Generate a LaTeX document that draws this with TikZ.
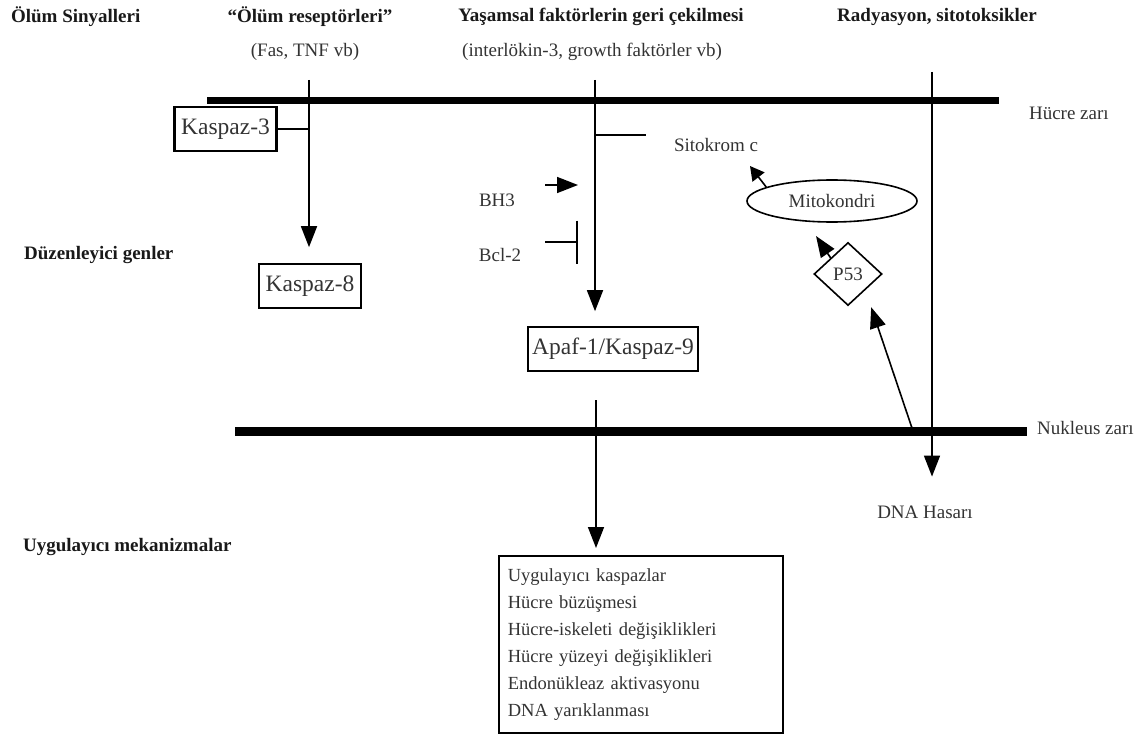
\documentclass[tikz,border=0pt]{standalone}
\usepackage{fontspec}
\setmainfont{Liberation Serif}
\usetikzlibrary{arrows.meta, shapes.geometric}

\begin{document}
\begin{tikzpicture}[x=0.5pt, y=-0.5pt, >={Triangle[width=8pt, length=10.5pt]},
  font=\fontsize{9.5}{13.5}\selectfont, text=black!80,
  head/.style={font=\fontsize{9.5}{12}\selectfont\bfseries, text=black!90},
  box/.style={draw, line width=0.8pt, minimum width=51pt, minimum height=22pt, inner sep=2pt,
    font=\fontsize{11.75}{14}\selectfont},
  wire/.style={line width=0.8pt},
  arr/.style={wire, ->},
  sarr/.style={wire, -{Triangle[width=7.5pt, length=7pt]}}]

\useasboundingbox (0,0) rectangle (1140,738);

% ---- column headers --------------------------------------------------------------
\node[head, anchor=west] (hsig) at (4,17) {Ölüm Sinyalleri};
\node[head] (hrec) at (310,17)  {“Ölüm reseptörleri”};
\node       (srec) at (305,52)  {(Fas, TNF vb)};
\node[head] (hyas) at (601,17)  {Yaşamsal faktörlerin geri çekilmesi};
\node       (syas) at (592,52)  {(interlökin-3, growth faktörler vb)};
\node[head] (hrad) at (937,17)  {Radyasyon, sitotoksikler};

% ---- row labels ------------------------------------------------------------------
\node[head, anchor=west] (lduz) at (17,255) {Düzenleyici genler};
\node[head, anchor=west] (luyg) at (16,547) {Uygulayıcı mekanizmalar};

% ---- membranes -------------------------------------------------------------------
\coordinate (hz1) at (207,101);
\coordinate (hz2) at (999,101);
\draw[line width=3.5pt] (hz1) -- (hz2);
\node[anchor=west] (hzari) at (1022,113) {Hücre zarı};

\coordinate (nz1) at (235,431);
\coordinate (nz2) at (1027,431);
\draw[line width=4.5pt] (nz1) -- (nz2);
\node[anchor=west] (nzari) at (1030,428) {Nukleus zarı};

% ---- death receptors -------------------------------------------------------------
\node[box, line width=1.2pt, minimum width=51pt, minimum height=22pt] (k3) at (225.5,129) {Kaspaz-3};
\node[box] (k8) at (310,286) {Kaspaz-8};
\coordinate (rectop) at (309,80);
\draw[arr, shorten >=8pt] (rectop) -- (rectop |- k8.north);
\draw[wire] (k3.east) -- (k3.east -| rectop);

% ---- withdrawal of survival factors ----------------------------------------------
\node[box, minimum width=85pt] (apaf) at (613,349) {Apaf-1/Kaspaz-9};
\coordinate (yastop) at (595,80);
\draw[arr, shorten >=7.5pt] (yastop) -- (yastop |- apaf.north);
\coordinate (tick) at (646,135);
\draw[wire] (tick -| yastop) -- (tick);
\node[anchor=west] (sito) at (667,145) {Sitokrom c};

\node (bh3) at (497,200) {BH3};
\node (bcl) at (500,255) {Bcl-2};
\coordinate (bh3a) at (545,185);
\coordinate (bh3b) at (578,185);
\draw[arr] (bh3a) -- (bh3b);
\coordinate (bcla) at (545,242);
\coordinate (bclb) at (578,242);
\draw[wire, -{Bar[width=21.5pt]}] (bcla) -- (bclb);

% ---- radiation -------------------------------------------------------------------
\node[draw, ellipse, wire, minimum width=85pt, minimum height=21pt, inner sep=0pt] (mito) at (832,201) {Mitokondri};
\node[draw, diamond, wire, minimum width=34pt, minimum height=31.5pt, inner sep=0pt] (p53) at (848,274) {P53};
\coordinate (sitotip) at (750,166);
\draw[sarr] (mito.168) -- (sitotip);
\coordinate (mitotip) at (816,236);
\draw[arr] (p53.north west) -- (mitotip);
\coordinate (dnd) at (913,431);
\draw[arr, shorten >=9pt] (dnd) -- (p53.south east);

\coordinate (radtop) at (932,72);
\node (dna) at (925,512) {DNA Hasarı};
\draw[arr, shorten >=11pt] (radtop) -- (radtop |- dna.north);

% ---- executioners ----------------------------------------------------------------
\node[draw, wire, anchor=north west, align=left, text width=133pt, inner xsep=4.5pt,
  minimum height=88.5pt, font=\fontsize{9.25}{13.5}\selectfont] (res) at (498,555)
  {Uygulayıcı kaspazlar\\
   Hücre büzüşmesi\\
   Hücre-iskeleti değişiklikleri\\
   Hücre yüzeyi değişiklikleri\\
   Endonükleaz aktivasyonu\\
   DNA yarıklanması};
\coordinate (apafout) at (596,400);
\draw[arr, shorten >=3.5pt] (apafout) -- (apafout |- res.north);

\end{tikzpicture}
\end{document}
